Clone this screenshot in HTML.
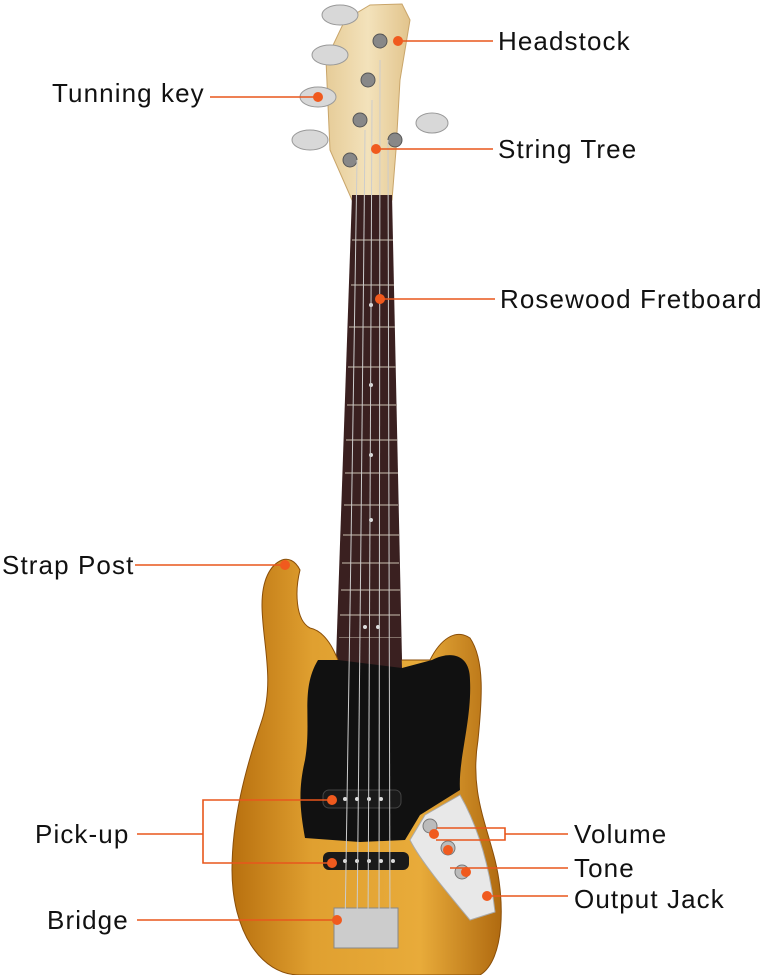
<!DOCTYPE html>
<html><head><meta charset="utf-8"><style>
html,body{margin:0;padding:0;background:#fff;width:766px;height:975px;overflow:hidden}
svg{display:block}
text{font-family:"Liberation Sans",sans-serif;font-size:26px;fill:#111;letter-spacing:1.1px}
</style></head><body>
<svg width="766" height="975" viewBox="0 0 766 975" xmlns="http://www.w3.org/2000/svg">
<defs>
<linearGradient id="wood" x1="0" x2="1" y1="0" y2="0">
<stop offset="0" stop-color="#b8700f"/><stop offset="0.3" stop-color="#e0a030"/><stop offset="0.7" stop-color="#e8ab3a"/><stop offset="1" stop-color="#b06a10"/></linearGradient>
<linearGradient id="head" x1="0" x2="1"><stop offset="0" stop-color="#e6cc98"/><stop offset="0.5" stop-color="#f3e2bb"/><stop offset="1" stop-color="#e2c48c"/></linearGradient>
</defs>
<path d="M352,200 L330,150 L326,60 L345,20 L370,5 L402,4 L410,20 L400,80 L396,150 L392,200 Z" fill="url(#head)" stroke="#c9a56a"/>
<g fill="#d8d8d8" stroke="#999">
<ellipse cx="340" cy="15" rx="18" ry="10"/><ellipse cx="330" cy="55" rx="18" ry="10"/><ellipse cx="318" cy="97" rx="18" ry="10"/><ellipse cx="310" cy="140" rx="18" ry="10"/><ellipse cx="432" cy="123" rx="16" ry="10"/>
</g>
<g fill="#888" stroke="#555"><circle cx="380" cy="41" r="7"/><circle cx="368" cy="80" r="7"/><circle cx="360" cy="120" r="7"/><circle cx="350" cy="160" r="7"/><circle cx="395" cy="140" r="7"/></g>
<path d="M352,195 L392,195 L402,660 L336,660 Z" fill="#3a2020"/>
<g stroke="#9a8a80" stroke-width="1.5">
<line x1="352" y1="240" x2="393" y2="240"/><line x1="351" y1="285" x2="394" y2="285"/><line x1="349" y1="327" x2="395" y2="327"/><line x1="348" y1="367" x2="396" y2="367"/><line x1="347" y1="405" x2="397" y2="405"/><line x1="346" y1="440" x2="397" y2="440"/><line x1="345" y1="473" x2="398" y2="473"/><line x1="344" y1="505" x2="398" y2="505"/><line x1="343" y1="535" x2="399" y2="535"/><line x1="342" y1="563" x2="399" y2="563"/><line x1="341" y1="590" x2="400" y2="590"/><line x1="340" y1="615" x2="400" y2="615"/><line x1="339" y1="638" x2="401" y2="638"/>
</g>
<g fill="#ddd"><circle cx="371" cy="305" r="2"/><circle cx="371" cy="385" r="2"/><circle cx="371" cy="455" r="2"/><circle cx="371" cy="520" r="2"/><circle cx="365" cy="627" r="2"/><circle cx="378" cy="627" r="2"/></g>
<path d="M282,560 C270,565 262,580 262,605 C262,640 275,680 262,720 C245,770 232,820 232,870 C232,930 260,975 300,975 L480,975 C505,960 505,900 495,860 C485,820 470,790 478,740 C482,700 485,660 470,638 C455,628 440,640 430,660 L402,660 L338,660 C330,640 320,630 310,628 C295,620 295,590 300,570 C295,560 288,558 282,560 Z" fill="url(#wood)" stroke="#8a4e08"/>
<path d="M339,638 L401,638 L402,668 L338,668 Z" fill="#3a2020"/>
<path d="M318,660 L338,660 L402,668 L432,660 C452,650 470,655 470,680 C472,720 458,760 460,790 L420,815 L405,840 L360,842 L305,838 C300,810 298,790 305,760 C312,720 300,690 318,660 Z" fill="#111"/>
<path d="M425,815 L460,795 C480,830 490,870 495,912 L470,920 C445,890 420,860 410,840 Z" fill="#e8e8e8" stroke="#aaa"/>
<g fill="#bbb" stroke="#777"><circle cx="430" cy="826" r="7"/><circle cx="448" cy="848" r="7"/><circle cx="462" cy="872" r="7"/></g>
<rect x="323" y="790" width="78" height="18" rx="6" fill="#1a1a1a" stroke="#444"/>
<rect x="323" y="852" width="86" height="18" rx="6" fill="#1a1a1a"/>
<g fill="#ddd"><circle cx="345" cy="799" r="2"/><circle cx="357" cy="799" r="2"/><circle cx="369" cy="799" r="2"/><circle cx="381" cy="799" r="2"/><circle cx="345" cy="861" r="2"/><circle cx="357" cy="861" r="2"/><circle cx="369" cy="861" r="2"/><circle cx="381" cy="861" r="2"/><circle cx="393" cy="861" r="2"/></g>
<rect x="334" y="908" width="64" height="40" fill="#ccc" stroke="#888"/>
<g stroke="#ccc" stroke-width="1"><line x1="357" y1="160" x2="345" y2="930"/><line x1="365" y1="130" x2="357" y2="930"/><line x1="372" y1="100" x2="368" y2="930"/><line x1="380" y1="60" x2="379" y2="930"/><line x1="388" y1="140" x2="390" y2="930"/></g>
<g stroke="#e8561c" stroke-width="1.6" fill="none">
<line x1="398" y1="41" x2="493" y2="41"/><line x1="210" y1="97" x2="318" y2="97"/><line x1="376" y1="149" x2="493" y2="149"/><line x1="380" y1="299" x2="495" y2="299"/><line x1="135" y1="565" x2="285" y2="565"/>
<line x1="137" y1="834" x2="203" y2="834"/><polyline points="332,800 203,800 203,863 332,863"/>
<polyline points="437,828 505,828 505,840 436,840"/><line x1="505" y1="834" x2="568" y2="834"/>
<line x1="450" y1="868" x2="568" y2="868"/><line x1="487" y1="896" x2="568" y2="896"/><line x1="137" y1="920" x2="337" y2="920"/>
</g>
<g fill="#f05a1e"><circle cx="398" cy="41" r="5"/><circle cx="318" cy="97" r="5"/><circle cx="376" cy="149" r="5"/><circle cx="380" cy="299" r="5"/><circle cx="285" cy="565" r="5"/><circle cx="332" cy="800" r="5"/><circle cx="332" cy="863" r="5"/><circle cx="434" cy="834" r="5"/><circle cx="448" cy="850" r="5"/><circle cx="466" cy="872" r="5"/><circle cx="487" cy="896" r="5"/><circle cx="337" cy="920" r="5"/></g>
<text x="498" y="50">Headstock</text>
<text x="52" y="102">Tunning key</text>
<text x="498" y="158">String Tree</text>
<text x="500" y="308">Rosewood Fretboard</text>
<text x="2" y="574">Strap Post</text>
<text x="35" y="843">Pick-up</text>
<text x="574" y="843">Volume</text>
<text x="574" y="877">Tone</text>
<text x="574" y="908">Output Jack</text>
<text x="47" y="929">Bridge</text>
</svg>
</body></html>
